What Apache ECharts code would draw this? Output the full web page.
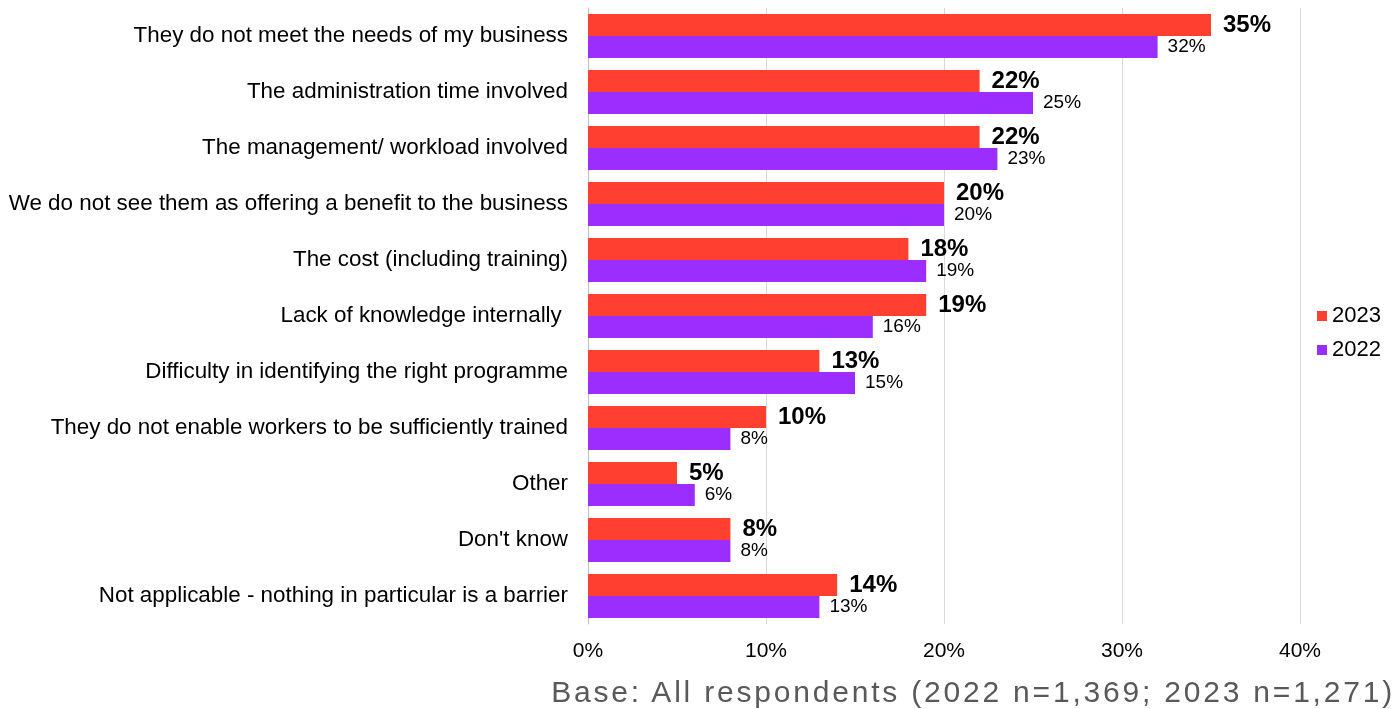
<!DOCTYPE html>
<html>
<head>
<meta charset="utf-8">
<script src="https://cdn.jsdelivr.net/npm/echarts@6/dist/echarts.min.js"></script>
<style>
  html, body { margin: 0; padding: 0; background: #fff; }
  #wrap { position: relative; width: 1400px; height: 709px; overflow: hidden; }
  #chart { width: 1400px; height: 709px; }
  #base {
    position: absolute; right: 5px; bottom: -1px;
    font-family: "Liberation Sans", Arial, sans-serif;
    font-size: 30px; letter-spacing: 2.8px; color: #595959;
    white-space: nowrap; line-height: 36px;
  }
</style>
</head>
<body>
<div id="wrap">
  <div id="chart"></div>
  <div id="base"></div>
</div>
<script>
const categories = [
  'They do not meet the needs of my business',
  'The administration time involved',
  'The management/ workload involved',
  'We do not see them as offering a benefit to the business',
  'The cost (including training)',
  'Lack of knowledge internally ',
  'Difficulty in identifying the right programme',
  'They do not enable workers to be sufficiently trained',
  'Other',
  "Don't know",
  'Not applicable - nothing in particular is a barrier'
];
const values2023 = [35, 22, 22, 20, 18, 19, 13, 10, 5, 8, 14];
const values2022 = [32, 25, 23, 20, 19, 16, 15, 8, 6, 8, 13];
const xTicks = [0, 10, 20, 30, 40];
const footnote = 'Base: All respondents (2022 n=1,369; 2023 n=1,271)';

document.getElementById('base').textContent = footnote;

const FONT = '"Liberation Sans", Arial, sans-serif';
const chart = echarts.init(document.getElementById('chart'));

chart.setOption({
  animation: false,
  textStyle: { fontFamily: FONT },
  legend: {
    orient: 'vertical',
    left: 1312,
    top: 300,
    icon: 'rect',
    itemWidth: 10,
    itemHeight: 10,
    itemGap: 12,
    textStyle: { fontFamily: FONT, fontSize: 22, color: '#000' },
    data: ['2023', '2022']
  },
  grid: { left: 588, right: 100, top: 8, bottom: 85, containLabel: false },
  xAxis: {
    type: 'value',
    min: xTicks[0],
    max: xTicks[xTicks.length - 1],
    interval: 10,
    axisLine: { show: false },
    axisTick: { show: false },
    splitLine: { show: true, lineStyle: { color: '#d9d9d9', width: 1 } },
    axisLabel: {
      formatter: v => v + '%',
      fontFamily: FONT, fontSize: 21, color: '#000', margin: 17
    }
  },
  yAxis: {
    type: 'category',
    inverse: true,
    data: categories,
    axisLine: { show: true, lineStyle: { color: '#bfbfbf', width: 1 } },
    axisTick: { show: false },
    axisLabel: { fontFamily: FONT, fontSize: 22.4, color: '#000', margin: 20 }
  },
  series: [
    {
      name: '2023',
      type: 'bar',
      data: values2023,
      barWidth: 22,
      barGap: '0%',
      itemStyle: { color: '#FF3F2F' },
      label: {
        show: true, position: 'right', distance: 12,
        formatter: p => p.value + '%',
        fontFamily: FONT, fontSize: 24, fontWeight: 'bold', color: '#000'
      }
    },
    {
      name: '2022',
      type: 'bar',
      data: values2022,
      barWidth: 22,
      itemStyle: { color: '#9B2EFF' },
      label: {
        show: true, position: 'right', distance: 10,
        formatter: p => p.value + '%',
        fontFamily: FONT, fontSize: 19, color: '#000'
      }
    }
  ]
});
</script>
</body>
</html>
